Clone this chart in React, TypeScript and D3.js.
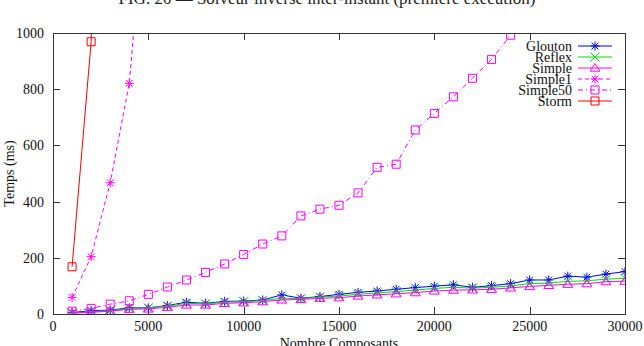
import React, { useEffect, useRef } from 'react';
import * as d3 from 'd3';

// run sizes (number of components)
const sizes = d3.range(1000, 30001, 1000);

const glouton = [5, 12, 14, 22, 22, 30, 42, 38, 45, 46, 50, 68, 56, 62, 70, 77, 82, 88, 94, 99, 104, 95, 101, 108, 121, 121, 135, 131, 142, 151];
const reflex = [4, 8, 12, 20, 22, 28, 38, 36, 42, 44, 48, 56, 55, 60, 64, 70, 75, 80, 85, 91, 95, 92, 95, 100, 108, 110, 116, 118, 124, 127];
const simple = [3, 6, 10, 17, 18, 24, 32, 32, 38, 40, 44, 50, 52, 56, 58, 64, 68, 72, 76, 82, 85, 86, 88, 93, 98, 102, 106, 108, 115, 117];
const simple1 = [59, 204, 467, 821, 1600];
const simple50 = [10, 20, 35, 47, 70, 96, 121, 148, 178, 212, 249, 278, 349, 373, 387, 431, 522, 533, 655, 714, 773, 839, 906, 992];
const storm = [168, 969, 4500];

const xTicks = [0, 5000, 10000, 15000, 20000, 25000, 30000];
const yTicks = [0, 200, 400, 600, 800, 1000];

type Marker = 'star' | 'cross' | 'triangle' | 'square';

const seriesList: { name: string; values: number[]; color: string; dash: string | null; marker: Marker }[] = [
  { name: 'Glouton', values: glouton, color: '#0000ff', dash: null, marker: 'star' },
  { name: 'Reflex', values: reflex, color: '#00e000', dash: null, marker: 'cross' },
  { name: 'Simple', values: simple, color: '#ff00ff', dash: null, marker: 'triangle' },
  { name: 'Simple1', values: simple1, color: '#ff00ff', dash: '4,3', marker: 'star' },
  { name: 'Simple50', values: simple50, color: '#ff00ff', dash: '5,3,1,3', marker: 'square' },
  { name: 'Storm', values: storm, color: '#ff0000', dash: null, marker: 'square' },
];

const FONT = '"Liberation Serif", "Times New Roman", "DejaVu Serif", serif';

const markerPath = (m: Marker, s: number) => {
  switch (m) {
    case 'star':
      return `M${-s},0H${s}M0,${-s}V${s}M${-s * 0.75},${-s * 0.75}L${s * 0.75},${s * 0.75}M${-s * 0.75},${s * 0.75}L${s * 0.75},${-s * 0.75}`;
    case 'cross':
      return `M${-s},${-s}L${s},${s}M${-s},${s}L${s},${-s}`;
    case 'triangle':
      return `M0,${-s}L${s * 1.1},${s * 0.7}H${-s * 1.1}Z`;
    default:
      return `M${-s},${-s}H${s}V${s}H${-s}Z`;
  }
};

const App = () => {
  const svgRef = useRef<SVGSVGElement>(null);
  const width = 644;
  const height = 346;

  useEffect(() => {
    const svg = d3.select(svgRef.current);
    svg.selectAll('*').remove();

    const margin = { top: 33, right: 19, bottom: 32, left: 53 };
    const x = d3.scaleLinear().domain([0, 30000]).range([margin.left, width - margin.right]);
    const y = d3.scaleLinear().domain([0, 1000]).range([height - margin.bottom, margin.top]);
    const [x0, x1] = x.range();
    const [y0, y1] = y.range();

    svg.append('defs').append('clipPath').attr('id', 'plot-clip')
      .append('rect').attr('x', x0).attr('y', y1).attr('width', x1 - x0).attr('height', y0 - y1);

    // title, mostly cut off at the top edge
    svg.append('text')
      .attr('x', 327).attr('y', 4)
      .attr('text-anchor', 'middle')
      .attr('font-family', FONT).attr('font-size', 17).attr('fill', '#222')
      .text('FIG. 20 — Solveur inverse inter-instant (première exécution)');

    // gnuplot-style inward ticks on all four sides
    const tickLen = 7;
    const grid = svg.append('g').attr('stroke', '#333').attr('stroke-width', 1);
    xTicks.forEach(t => {
      const px = Math.round(x(t)) + 0.5;
      grid.append('line').attr('x1', px).attr('x2', px).attr('y1', y0).attr('y2', y0 - tickLen);
      grid.append('line').attr('x1', px).attr('x2', px).attr('y1', y1).attr('y2', y1 + tickLen);
    });
    yTicks.forEach(t => {
      const py = Math.round(y(t)) + 0.5;
      grid.append('line').attr('x1', x0).attr('x2', x0 + tickLen).attr('y1', py).attr('y2', py);
      grid.append('line').attr('x1', x1).attr('x2', x1 - tickLen).attr('y1', py).attr('y2', py);
    });

    const labels = svg.append('g').attr('font-family', FONT).attr('font-size', 14).attr('fill', '#111');
    xTicks.forEach(t => {
      labels.append('text').attr('x', x(t)).attr('y', y0 + 17).attr('text-anchor', 'middle').text(t);
    });
    yTicks.forEach(t => {
      labels.append('text').attr('x', x0 - 9).attr('y', y(t) + 5).attr('text-anchor', 'end').text(t);
    });
    labels.append('text').attr('x', (x0 + x1) / 2).attr('y', height + 2).attr('text-anchor', 'middle').text('Nombre Composants');
    labels.append('text')
      .attr('transform', `translate(14,${(y0 + y1) / 2}) rotate(-90)`)
      .attr('text-anchor', 'middle').text('Temps (ms)');

    const plot = svg.append('g').attr('clip-path', 'url(#plot-clip)');
    const line = d3.line<number>().x((_, i) => x(sizes[i])).y(d => y(d));

    seriesList.forEach(s => {
      plot.append('path')
        .datum(s.values)
        .attr('fill', 'none')
        .attr('stroke', s.color)
        .attr('stroke-width', 1)
        .attr('stroke-dasharray', s.dash)
        .attr('d', line);
      plot.selectAll(null)
        .data(s.values)
        .enter()
        .append('path')
        .attr('transform', (d, i) => `translate(${x(sizes[i])},${y(d)})`)
        .attr('d', markerPath(s.marker, s.marker === 'square' ? 4 : 4.5))
        .attr('fill', 'none')
        .attr('stroke', s.color)
        .attr('stroke-width', 1);
    });

    // legend, top right inside the frame
    const legend = svg.append('g');
    seriesList.forEach((s, i) => {
      const ly = 46 + i * 11;
      legend.append('text')
        .attr('x', 572).attr('y', ly + 5)
        .attr('text-anchor', 'end')
        .attr('font-family', FONT).attr('font-size', 14).attr('fill', '#111')
        .text(s.name);
      legend.append('line')
        .attr('x1', 578).attr('x2', 612).attr('y1', ly).attr('y2', ly)
        .attr('stroke', s.color).attr('stroke-dasharray', s.dash);
      legend.append('path')
        .attr('transform', `translate(595,${ly})`)
        .attr('d', markerPath(s.marker, s.marker === 'square' ? 4 : 4.5))
        .attr('fill', 'none').attr('stroke', s.color);
    });

    // frame
    svg.append('rect')
      .attr('x', x0 + 0.5).attr('y', y1 + 0.5)
      .attr('width', x1 - x0).attr('height', y0 - y1)
      .attr('fill', 'none').attr('stroke', '#333').attr('stroke-width', 1);
  }, []);

  return (
    <svg
      ref={svgRef}
      width={width}
      height={height}
      style={{ position: 'absolute', left: 0, top: 0, background: '#fff' }}
    />
  );
};

export default App;
